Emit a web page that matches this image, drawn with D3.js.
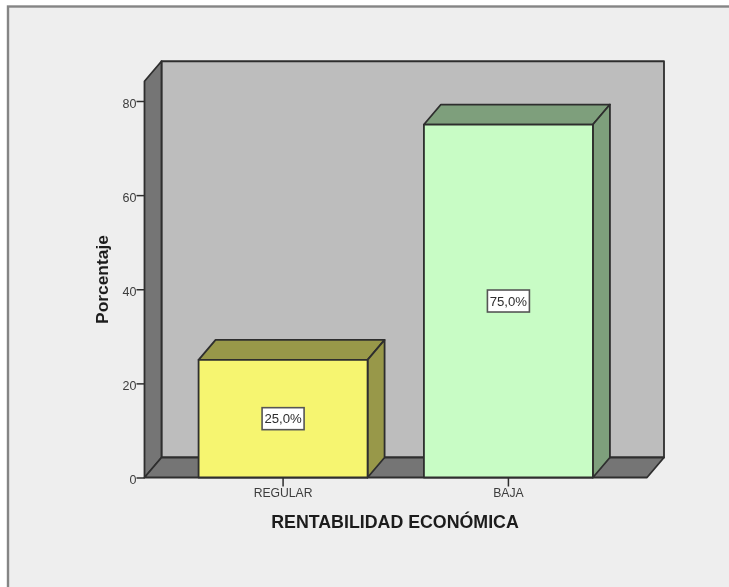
<!DOCTYPE html>
<html lang="es">
<head>
    <meta charset="UTF-8">
    <title>Rentabilidad economica</title>
    <script src="https://d3js.org/d3.v7.min.js"></script>
    <style>
        html, body { margin: 0; padding: 0; background: #fff; }
        svg { display: block; }
        text { font-family: "Liberation Sans", Arial, sans-serif; }
    </style>
</head>
<body>
    <svg id="chart" width="729" height="587"></svg>
    <script>
        const categories = ["REGULAR", "BAJA"];
        const percentages = [25, 75];
        const valueLabels = ["25,0%", "75,0%"];
        const yTicks = [0, 20, 40, 60, 80];
        const yAxisTitle = "Porcentaje";
        const xAxisTitle = "RENTABILIDAD ECONÓMICA";
        const frontColors = ["#f6f570", "#c8fcc5"];
        const sideColors = ["#98984a", "#7e9f7c"];

        const plotLeft = 144.5, plotRight = 647, plotBottom = 477.5, plotTop = 101;
        const depthX = 17, depthY = 20;
        const line = "#2e2e2e";

        const svg = d3.select("#chart");

        // slight softening, the reference is a resized screenshot
        svg.append("defs").append("filter").attr("id", "soft")
            .append("feGaussianBlur").attr("stdDeviation", 0.55);

        const g = svg.append("g").attr("filter", "url(#soft)");

        g.append("rect")
            .attr("x", 8).attr("y", 6.5)
            .attr("width", 740).attr("height", 600)
            .attr("fill", "#eeeeee").attr("stroke", "#858585").attr("stroke-width", 2.4);

        const x = d3.scaleBand().domain(categories).range([plotLeft, plotRight])
            .paddingInner(0.25).paddingOuter(0.24);
        const y = d3.scaleLinear().domain([0, 80]).range([plotBottom, plotTop]);
        const wallTop = y(84.2);

        function poly(points, fill, width) {
            g.append("polygon")
                .attr("points", points.map(p => p.join(",")).join(" "))
                .attr("fill", fill)
                .attr("stroke", line)
                .attr("stroke-width", width || 1.8)
                .attr("stroke-linejoin", "round");
        }

        // back wall, left wall, floor
        poly([[plotLeft + depthX, wallTop - depthY], [plotRight + depthX, wallTop - depthY],
              [plotRight + depthX, plotBottom - depthY], [plotLeft + depthX, plotBottom - depthY]], "#bdbdbd");
        poly([[plotLeft, wallTop], [plotLeft + depthX, wallTop - depthY],
              [plotLeft + depthX, plotBottom - depthY], [plotLeft, plotBottom]], "#757575");
        poly([[plotLeft, plotBottom], [plotLeft + depthX, plotBottom - depthY],
              [plotRight + depthX, plotBottom - depthY], [plotRight, plotBottom]], "#757575");

        // axes
        const yAxis = g.append("g")
            .attr("transform", "translate(" + plotLeft + ",0)")
            .call(d3.axisLeft(y).tickValues(yTicks).tickSize(8).tickPadding(0));
        const xAxis = g.append("g")
            .attr("transform", "translate(0," + plotBottom + ")")
            .call(d3.axisBottom(x).tickSize(9).tickPadding(2));
        [yAxis, xAxis].forEach(a => {
            a.select(".domain").remove();
            a.selectAll("line").attr("stroke", line).attr("stroke-width", 1.5);
            a.selectAll("text").attr("fill", "#3c3c3c").attr("font-size", 12.5)
                .style("font-family", "'Liberation Sans', Arial, sans-serif");
        });
        yAxis.selectAll("text").attr("dy", "0.5em");
        xAxis.selectAll("text").attr("font-size", 12.2);

        // bars
        categories.forEach((c, i) => {
            const x0 = x(c), x1 = x0 + x.bandwidth(), yT = y(percentages[i]);
            poly([[x0, yT], [x0 + depthX, yT - depthY], [x1 + depthX, yT - depthY], [x1, yT]], sideColors[i]);
            poly([[x1, yT], [x1 + depthX, yT - depthY], [x1 + depthX, plotBottom - depthY], [x1, plotBottom]], sideColors[i]);
            poly([[x0, yT], [x1, yT], [x1, plotBottom], [x0, plotBottom]], frontColors[i]);

            const cx = x0 + x.bandwidth() / 2, cy = y(percentages[i] / 2);
            g.append("rect")
                .attr("x", cx - 21).attr("y", cy - 11)
                .attr("width", 42).attr("height", 22)
                .attr("fill", "#fff").attr("stroke", "#555").attr("stroke-width", 1.6);
            g.append("text")
                .attr("x", cx).attr("y", cy + 4.8)
                .attr("text-anchor", "middle")
                .attr("font-size", 13.2)
                .attr("fill", "#2e2e2e")
                .text(valueLabels[i]);
        });

        g.append("text")
            .attr("transform", "translate(108,279.5) rotate(-90)")
            .attr("text-anchor", "middle")
            .attr("font-size", 17.4)
            .attr("font-weight", "bold")
            .attr("fill", "#1c1c1c")
            .text(yAxisTitle);

        g.append("text")
            .attr("x", 395).attr("y", 528)
            .attr("text-anchor", "middle")
            .attr("font-size", 17.8)
            .attr("font-weight", "bold")
            .attr("fill", "#1c1c1c")
            .text(xAxisTitle);
    </script>
</body>
</html>
